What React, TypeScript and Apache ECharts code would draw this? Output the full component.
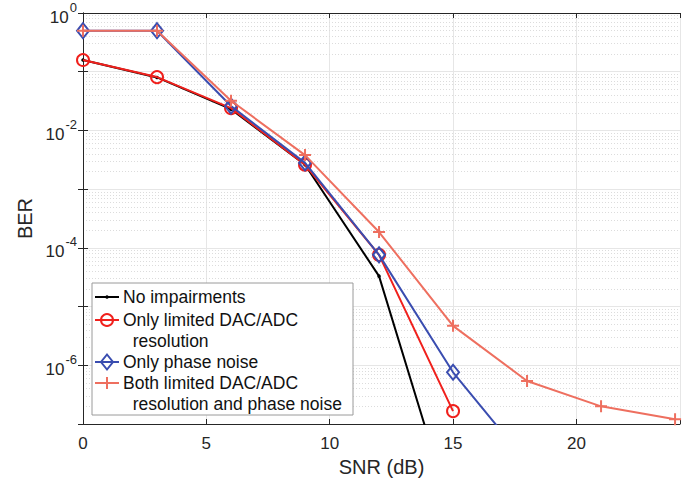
import React, { useEffect, useRef } from "react";
import * as echarts from "echarts";

const snr = [0, 3, 6, 9, 12, 15, 18, 21, 24];
const noImpairments = [0.158, 0.08, 0.023, 0.0026, 3.3e-5, 2.5e-9];
const onlyDacAdc = [0.158, 0.081, 0.024, 0.0026, 7.6e-5, 1.66e-7];
const onlyPhaseNoise = [0.5, 0.5, 0.026, 0.0028, 7.6e-5, 7.6e-7, 2.2e-8];
const bothImpairments = [0.5, 0.5, 0.032, 0.0038, 1.86e-4, 4.7e-6, 5.4e-7, 2.0e-7, 1.2e-7];
const legendLabels = [
  ["No impairments"],
  ["Only limited DAC/ADC", "  resolution"],
  ["Only phase noise"],
  ["Both limited DAC/ADC", "  resolution and phase noise"],
];
const xTicks = [0, 5, 10, 15, 20];

const BLACK = "#000000";
const RED = "#f0201c";
const BLUE = "#3a4db0";
const SALMON = "#ee6f5f";
const FONT = "'Liberation Sans', Arial, Helvetica, sans-serif";
const X_MAX = 24.2;

const pairs = (ys: number[]) => ys.map((y, i) => [snr[i], y]);

export default function App() {
  const ref = useRef<HTMLDivElement>(null);
  useEffect(() => {
    const chart = echarts.init(ref.current!, null, { renderer: "svg" });
    const minorLines: any[] = [];
    for (let k = -7; k < 0; k++) {
      for (let m = 2; m <= 9; m++) {
        const v = m * Math.pow(10, k);
        minorLines.push([{ coord: [0, v] }, { coord: [X_MAX, v] }]);
      }
    }
    const plusPath = "path://M5,0L5,10M0,5L10,5";
    const lx = 95, lx2 = 119, tx = 123, fs = 17.5;
    const rows = [297, 320, 362, 383];
    const graphic: any[] = [
      { type: "rect", shape: { x: 92, y: 283, width: 261, height: 132 }, style: { fill: "#fff", stroke: "#9a9a9a", lineWidth: 1 }, z: 100 },
    ];
    const cols = [BLACK, RED, BLUE, SALMON];
    rows.forEach((y, i) => {
      graphic.push({ type: "line", shape: { x1: lx, y1: y, x2: lx2, y2: y }, style: { stroke: cols[i], lineWidth: 2 }, z: 101 });
      legendLabels[i].forEach((t, j) => {
        graphic.push({ type: "text", x: tx, y: y + j * 21, style: { text: t, font: `${fs}px ${FONT}`, fill: "#111", verticalAlign: "middle" }, z: 101 });
      });
    });
    const cx = (lx + lx2) / 2;
    graphic.push({ type: "circle", shape: { cx, cy: rows[0], r: 1.8 }, style: { fill: BLACK }, z: 102 });
    graphic.push({ type: "circle", shape: { cx, cy: rows[1], r: 6 }, style: { fill: "none", stroke: RED, lineWidth: 2 }, z: 102 });
    graphic.push({ type: "polygon", shape: { points: [[cx, rows[2] - 7.5], [cx + 6, rows[2]], [cx, rows[2] + 7.5], [cx - 6, rows[2]]] }, style: { fill: "none", stroke: BLUE, lineWidth: 2 }, z: 102 });
    graphic.push({ type: "line", shape: { x1: cx, y1: rows[3] - 6, x2: cx, y2: rows[3] + 6 }, style: { stroke: SALMON, lineWidth: 2 }, z: 102 });

    const yFormatter = (v: number) => {
      const e = Math.round(Math.log10(v));
      if (e % 2 !== 0) return "";
      return `{b|10}{s|${e}}`;
    };

    chart.setOption({
      animation: false,
      backgroundColor: "#fff",
      textStyle: { fontFamily: FONT },
      grid: { left: 83, right: 4, top: 13, bottom: 58, containLabel: false },
      xAxis: [
        {
          type: "value", min: 0, max: X_MAX, interval: 5,
          name: "SNR (dB)", nameLocation: "middle", nameGap: 31,
          nameTextStyle: { fontSize: 20, color: "#262626", fontFamily: FONT },
          axisLine: { show: true, onZero: false, lineStyle: { color: "#262626", width: 1 } },
          axisTick: { inside: true, length: 5, lineStyle: { color: "#262626" } },
          axisLabel: { fontSize: 17, color: "#262626", margin: 11, fontFamily: FONT, formatter: (v: number) => (xTicks.includes(v) ? String(v) : "") },
          splitLine: { show: true, lineStyle: { color: "#e6e6e6", width: 1 } },
        },
        {
          type: "value", min: 0, max: X_MAX, interval: 5, position: "top",
          axisLine: { show: true, lineStyle: { color: "#262626", width: 1 } },
          axisTick: { inside: true, length: 5, lineStyle: { color: "#262626" } },
          axisLabel: { show: false }, splitLine: { show: false },
        },
      ],
      yAxis: [
        {
          type: "log", logBase: 10, min: 1e-7, max: 1, splitNumber: 7,
          name: "BER", nameLocation: "middle", nameGap: 48,
          nameTextStyle: { fontSize: 20, color: "#262626", fontFamily: FONT },
          axisLine: { show: true, lineStyle: { color: "#262626", width: 1 } },
          axisTick: { inside: true, length: 5, lineStyle: { color: "#262626" } },
          axisLabel: {
            color: "#262626", margin: 6, formatter: yFormatter,
            rich: {
              b: { fontSize: 17, color: "#262626", fontFamily: FONT, padding: [8, 0, 0, 0] },
              s: { fontSize: 13, color: "#262626", fontFamily: FONT, verticalAlign: "top", padding: [0, 0, 6, 1] },
            },
          },
          splitLine: { show: true, lineStyle: { color: "#e6e6e6", width: 1 } },
        },
        {
          type: "log", logBase: 10, min: 1e-7, max: 1, splitNumber: 7, position: "right",
          axisLine: { show: true, lineStyle: { color: "#262626", width: 1 } },
          axisTick: { inside: true, length: 5, lineStyle: { color: "#262626" } },
          axisLabel: { show: false }, splitLine: { show: false },
        },
      ],
      series: [
        {
          name: "No impairments", type: "line", data: pairs(noImpairments), clip: true,
          symbol: "circle", symbolSize: 3.5, z: 2,
          lineStyle: { color: BLACK, width: 2 }, itemStyle: { color: BLACK },
          markLine: {
            silent: true, symbol: "none", label: { show: false },
            lineStyle: { color: "#dcdcdc", type: [1, 2], width: 1 },
            data: minorLines, z: 0,
          },
        },
        {
          name: "Only limited DAC/ADC resolution", type: "line", data: pairs(onlyDacAdc), clip: true,
          symbol: "circle", symbolSize: 12, z: 3,
          lineStyle: { color: RED, width: 2 }, itemStyle: { color: "rgba(0,0,0,0)", borderColor: RED, borderWidth: 2 },
        },
        {
          name: "Only phase noise", type: "line", data: pairs(onlyPhaseNoise), clip: true,
          symbol: "diamond", symbolSize: [12, 15], z: 4,
          lineStyle: { color: BLUE, width: 2 }, itemStyle: { color: "rgba(0,0,0,0)", borderColor: BLUE, borderWidth: 2 },
        },
        {
          name: "Both limited DAC/ADC resolution and phase noise", type: "line", data: pairs(bothImpairments), clip: true,
          symbol: plusPath, symbolSize: 12, z: 5,
          lineStyle: { color: SALMON, width: 2 }, itemStyle: { color: "rgba(0,0,0,0)", borderColor: SALMON, borderWidth: 2 },
        },
      ],
      graphic,
    });
    return () => chart.dispose();
  }, []);
  return <div ref={ref} style={{ position: "fixed", left: 0, top: 0, width: 684, height: 482, background: "#fff" }} />;
}
